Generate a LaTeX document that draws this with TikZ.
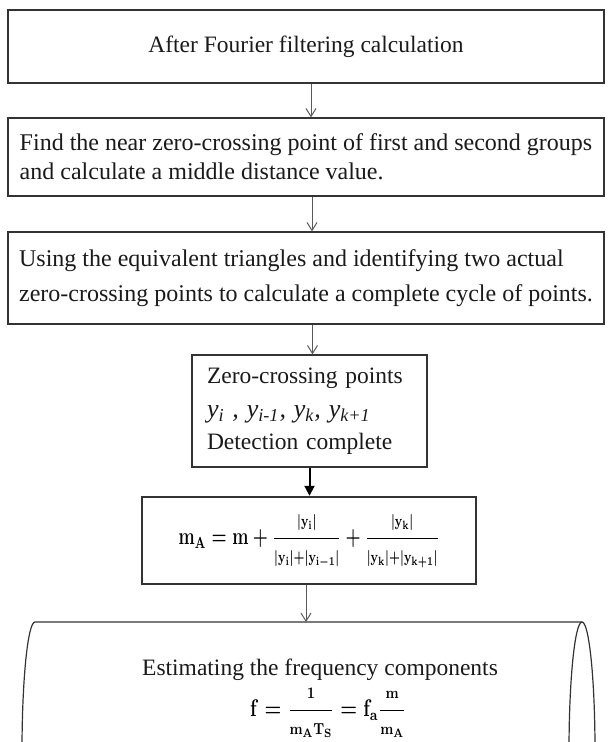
\documentclass[tikz,border=0pt]{standalone}
\usepackage{amsmath,amssymb}
\usepackage{fontspec}
\setmainfont{Liberation Serif}
\usepackage{xcolor}
\usepackage{tikz}
\usetikzlibrary{arrows.meta,positioning}
\definecolor{fcink}{HTML}{1A1A1A}
\definecolor{fcframe}{HTML}{333333}
\definecolor{fcarrow}{HTML}{5A5A5A}
\newsavebox{\massbox}
\newsavebox{\freqbox}

\begin{document}
\begin{tikzpicture}[x=0.5pt,y=-0.5pt,
    stepbox/.style={draw=fcframe,line width=0.6pt,inner sep=0pt,text=fcink,font=\fontsize{12}{14.5}\selectfont},
    formula/.style={text=fcink,inner sep=0pt,transform shape},
    flowarrow/.style={draw=fcarrow,line width=0.5pt,-{Straight Barb[length=4pt,width=5pt]}},
    boldarrow/.style={draw=black,line width=1pt,-{Triangle[length=5pt,width=5pt]}}]
  \useasboundingbox (0,0) rectangle (607,742);
  % formulas set apart
  \sbox{\massbox}{\fontsize{11.5}{14}\selectfont\boldmath$\displaystyle
    \mathbf{m}_{\mathbf{A}} = \mathbf{m} + \frac{\scriptstyle\rule{0pt}{7pt}|\mathbf{y}_{\mathbf{i}}|}{\scriptstyle\rule[-2.5pt]{0pt}{2pt}|\mathbf{y}_{\mathbf{i}}|+|\mathbf{y}_{\mathbf{i-1}}|}
    + \frac{\scriptstyle\rule{0pt}{7pt}|\mathbf{y}_{\mathbf{k}}|}{\scriptstyle\rule[-2.5pt]{0pt}{2pt}|\mathbf{y}_{\mathbf{k}}|+|\mathbf{y}_{\mathbf{k+1}}|}$}%
  \sbox{\freqbox}{\fontsize{11.5}{14}\selectfont\boldmath$\displaystyle
    \mathbf{f} = \frac{\scriptstyle\mathbf{1}}{\scriptstyle\mathbf{m}_{\mathbf{A}}\mathbf{T}_{\mathbf{S}}} = \mathbf{f}_{\mathbf{a}}\frac{\scriptstyle\mathbf{m}}{\scriptstyle\mathbf{m}_{\mathbf{A}}}$}%
  % steps
  \node[stepbox,font=\fontsize{11.75}{14.5}\selectfont,minimum width=298pt,minimum height=36.5pt] (filter) at (306,46.5) {After Fourier filtering calculation};
  \node[stepbox,minimum width=298pt,minimum height=39pt,align=left] (middle) at (306,157)
    {Find the near zero-crossing point of first and second groups\\and calculate a middle distance value.};
  \node[stepbox,minimum width=298pt,minimum height=46pt,align=left,font=\fontsize{12}{17.5}\selectfont] (cycle) at (306,278)
    {Using the equivalent triangles and identifying two actual\\zero-crossing points to calculate a complete cycle of points.};
  \node[stepbox,minimum width=117.5pt,minimum height=56pt,text width=102.5pt,align=left,font=\fontsize{11.75}{16}\selectfont] (zeros) at (309.5,411)
    {Zero-crossing points\\[1pt]
     {\fontsize{13}{16}\selectfont\itshape y\textsubscript{i} , y\textsubscript{i-1}, y\textsubscript{k}, y\textsubscript{k+1}}\\
     Detection complete};
  \node[stepbox,line width=1.2pt,minimum width=167pt,minimum height=43.5pt] (mass) at (309,540.5) {};
  \node[formula,xscale=0.72] (massrule) at (mass.center) {\usebox{\massbox}};
  % cylinder, cut by the lower edge
  \begin{scope}
    \clip (0,0) rectangle (607,742);
    \draw[fcframe,line width=0.6pt] (582,622) -- (35,622) arc[start angle=270,end angle=90,x radius=13,y radius=129];
    \draw[fcframe,line width=0.6pt] (582,751) ellipse[x radius=13,y radius=129];
  \end{scope}
  \coordinate (cyltop) at (306,622);
  \coordinate (freqpt) at (328,713);
  \node[text=fcink,font=\fontsize{11.75}{14.5}\selectfont] (estimate) at (320,670) {Estimating the frequency components};
  \node[formula,xscale=0.8] (freq) at (freqpt) {\usebox{\freqbox}};
  % connectors
  \draw[flowarrow] ([xshift=2.5pt]filter.south) -- ([xshift=2.5pt]middle.north);
  \draw[flowarrow] ([xshift=3pt]middle.south) -- ([xshift=3pt]cycle.north);
  \draw[flowarrow] ([xshift=1.5pt]cycle.south -| zeros.north) -- ([xshift=1.5pt]zeros.north);
  \draw[boldarrow] (zeros.south) -- (mass.north -| zeros.south);
  \draw[flowarrow] ([xshift=-1.5pt]mass.south) -- (cyltop);
\end{tikzpicture}
\end{document}
